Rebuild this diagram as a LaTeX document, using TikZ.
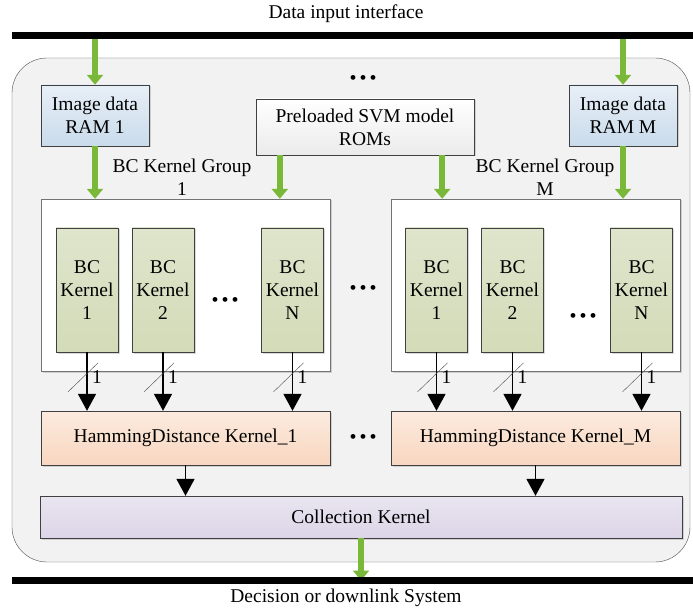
\documentclass[tikz,border=0pt]{standalone}
\usepackage{fontspec}
\setmainfont{Liberation Serif}
\usetikzlibrary{arrows.meta,shadows}
\definecolor{boardgray}{HTML}{F2F2F2}
\definecolor{ramtop}{HTML}{E8EFF7}
\definecolor{rambot}{HTML}{C9DBEB}
\definecolor{bctop}{HTML}{DFE5CC}
\definecolor{bcbot}{HTML}{D3DBB8}
\definecolor{hdtop}{HTML}{FCEBDF}
\definecolor{hdbot}{HTML}{F8D6BF}
\definecolor{coltop}{HTML}{E9E5F0}
\definecolor{colbot}{HTML}{DCD5E7}
\definecolor{feedgreen}{HTML}{7AB83A}
\newcommand{\dotrow}{{\fontsize{20}{20}\selectfont\textbullet\hspace{3pt}\textbullet\hspace{3pt}\textbullet}}
\tikzset{
  blk/.style={draw=black!75,inner sep=0pt,align=center,
    drop shadow={shadow xshift=1.5pt,shadow yshift=-1.5pt,opacity=.3}},
  ram/.style={blk,top color=ramtop,bottom color=rambot,minimum width=108pt,minimum height=61pt},
  rom/.style={blk,top color=white,bottom color=black!8,minimum width=218pt,minimum height=56pt},
  grp/.style={blk,draw=black!55,fill=white,minimum width=289pt,minimum height=172pt},
  bck/.style={blk,top color=bctop,bottom color=bcbot,minimum width=62pt,minimum height=124pt},
  hdk/.style={blk,top color=hdtop,bottom color=hdbot,minimum width=289pt,minimum height=54pt},
  colk/.style={blk,top color=coltop,bottom color=colbot,minimum width=642pt,minimum height=42pt},
  feed/.style={draw=feedgreen,line width=6pt,-{Triangle[width=16pt,length=10pt]}},
  sig/.style={draw=black,line width=1.8pt,-{Triangle[width=18pt,length=17pt]}},
  bus/.style={line width=7pt,black},
}
\begin{document}
\begin{tikzpicture}[x=1pt,y=-1pt,font=\fontsize{19.5}{23}\selectfont]
  \useasboundingbox (0,0) rectangle (693,612);
  %% board
  \node (board) [draw=black!70,fill=boardgray,rounded corners=35pt,
    minimum width=678pt,minimum height=504pt] at (351,310) {};
  \node (title) at (346,14) {Data input interface};
  \node (sink) at (346,598) {Decision or downlink System};
  \coordinate (busin) at (12,36);
  \coordinate (businR) at (693,36);
  \coordinate (busout) at (12,580.5);
  \coordinate (busoutR) at (693,580.5);
  %% memories
  \node (ram1) [ram] at (95,115.5) {Image data\\RAM 1};
  \node (ramM) [ram] at (623,115.5) {Image data\\RAM M};
  \node (rom) [rom] at (365,127) {Preloaded SVM model\\ROMs};
  \node (topdots) at (363,80) {\dotrow};
  \coordinate (romL) at ([xshift=24pt]rom.south west);
  \coordinate (romR) at ([xshift=-32pt]rom.south east);
  %% kernel groups
  \node (lab1) [align=center] at (182,177) {BC Kernel Group\\1};
  \node (labM) [align=center] at (545,177) {BC Kernel Group\\M};
  \node (grp1) [grp] at (185.5,285) {};
  \node (grpM) [grp] at (535.5,285) {};
  \node (k11) [bck] at (87,290) {BC\\Kernel\\1};
  \node (k12) [bck] at (163,290) {BC\\Kernel\\2};
  \node (k1n) [bck] at (292.5,290) {BC\\Kernel\\N};
  \node (km1) [bck] at (436.5,290) {BC\\Kernel\\1};
  \node (km2) [bck] at (512.5,290) {BC\\Kernel\\2};
  \node (kmn) [bck] at (641.5,290) {BC\\Kernel\\N};
  \node (dots1) at (225,302) {\dotrow};
  \node (dotsM) at (583,318) {\dotrow};
  \node (dotsmid) at (363,290) {\dotrow};
  %% hamming distance + collection
  \node (hd1) [hdk] at (185.5,438) {HammingDistance Kernel\_1};
  \node (hdM) [hdk] at (535.5,438) {HammingDistance Kernel\_M};
  \node (dotshd) at (363,439) {\dotrow};
  \node (coll) [colk] at (361,517) {Collection Kernel};
  %% green feeds
  \draw[feed] (ram1.north |- busin) -- (ram1.north);
  \draw[feed] (ramM.north |- busin) -- (ramM.north);
  \draw[feed] (ram1.south) -- (ram1.south |- grp1.north);
  \draw[feed] (romL) -- (romL |- grp1.north);
  \draw[feed] (romR) -- (romR |- grpM.north);
  \draw[feed] (ramM.south) -- (ramM.south |- grpM.north);
  \draw[feed] (coll.south) -- (coll.south |- busout);
  \draw[bus] (busin) -- (businR);
  \draw[bus] (busout) -- (busoutR);
  %% 1-bit outputs
  \foreach \k in {k11,k12,k1n,km1,km2,kmn}{
    \draw[sig] (\k.south) -- coordinate[pos=.37] (\k-x) (\k.south |- hd1.north);
    \draw[black!70,thin] (\k-x) ++(-19,18) -- ++(30,-29);
    \node (\k-w) at ([xshift=10pt,yshift=-3pt]\k-x) {1};
  }
  \draw[sig] (hd1.south) -- (hd1.south |- coll.north);
  \draw[sig] (hdM.south) -- (hdM.south |- coll.north);
\end{tikzpicture}
\end{document}
